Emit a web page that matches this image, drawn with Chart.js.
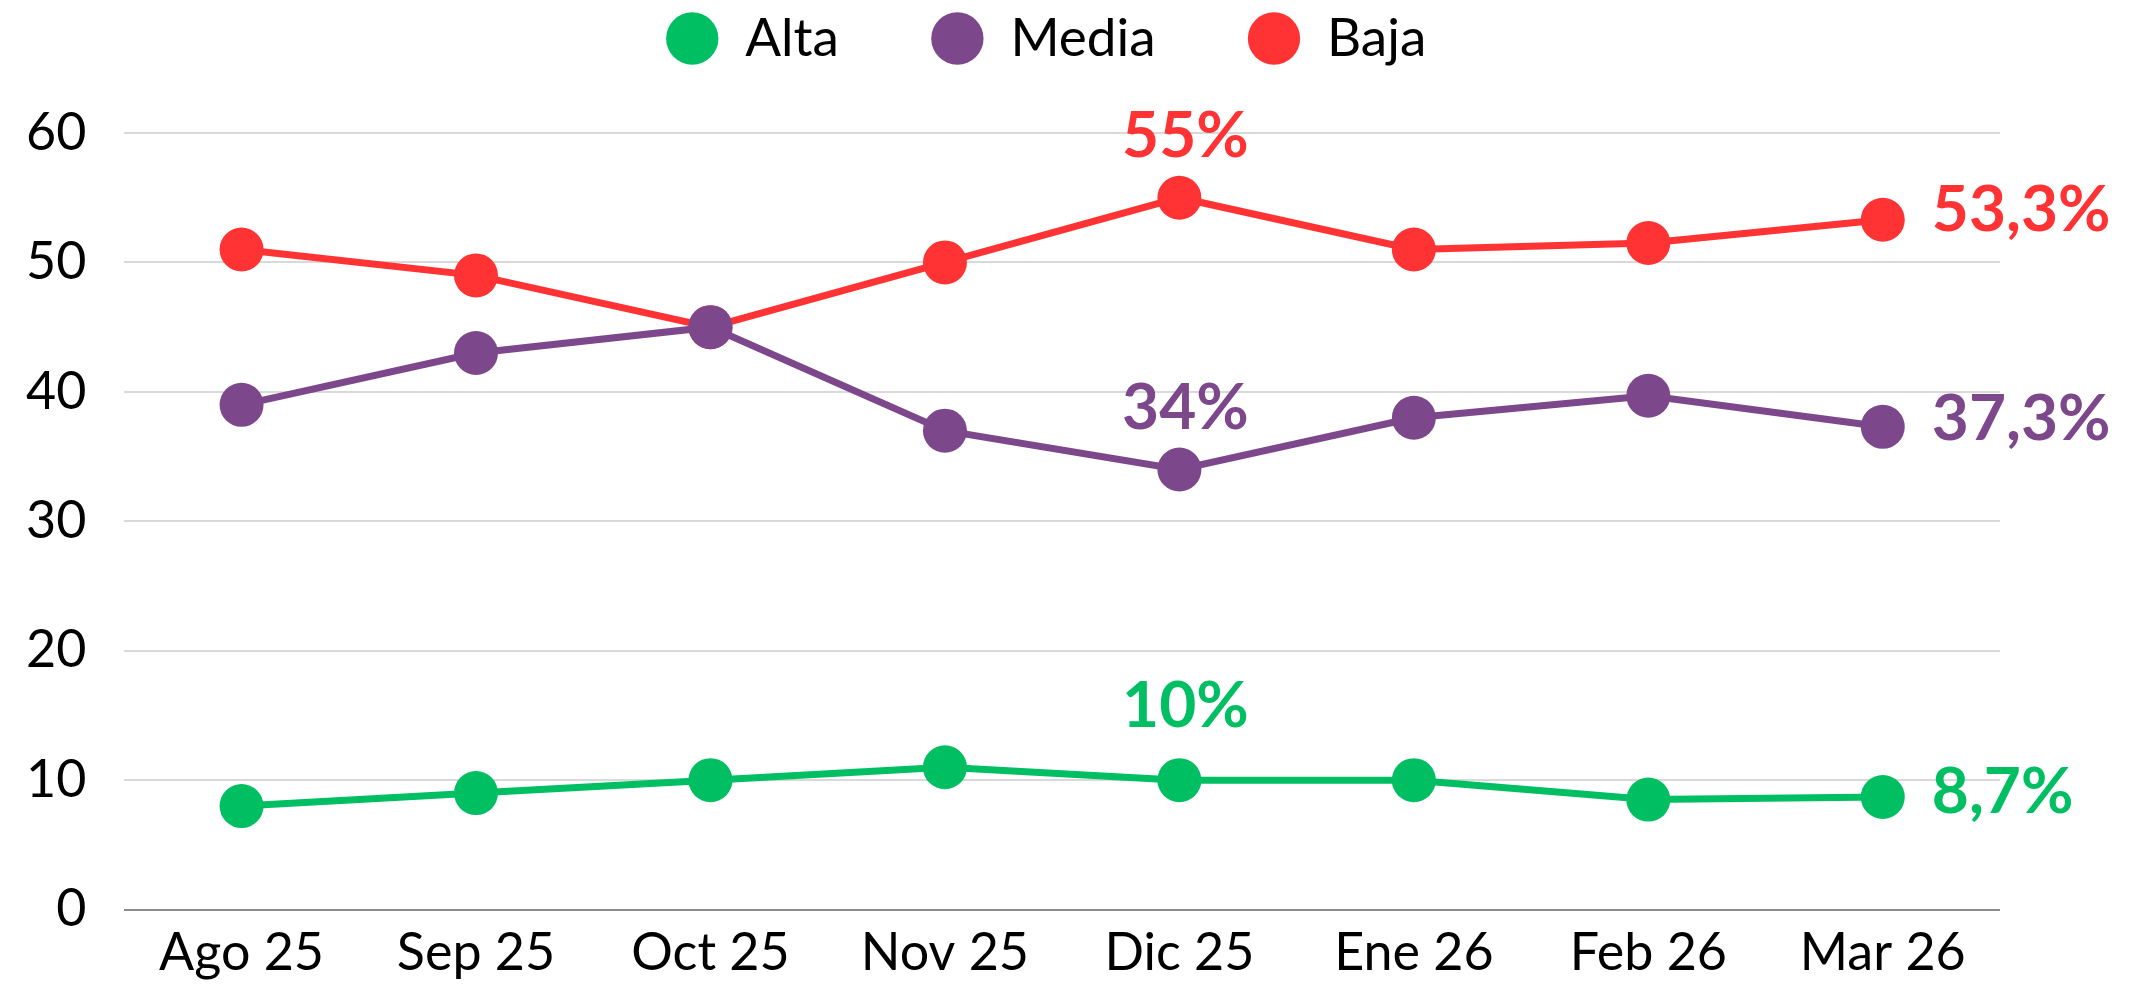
<!DOCTYPE html>
<html>
<head>
<meta charset="utf-8">
<script src="https://cdn.jsdelivr.net/npm/chart.js@4.4.1/dist/chart.umd.min.js"></script>
<style>
  html, body { margin: 0; padding: 0; background: #fff; }
  #wrap { width: 2136px; height: 984px; position: relative; }
</style>
</head>
<body>
<div id="wrap"><canvas id="grafico"></canvas></div>
<script>
const meses = ['Ago 25', 'Sep 25', 'Oct 25', 'Nov 25', 'Dic 25', 'Ene 26', 'Feb 26', 'Mar 26'];
const alta = [8, 9, 10, 11, 10, 10, 8.5, 8.7];
const media = [39, 43, 45, 37, 34, 38, 39.7, 37.3];
const baja = [51, 49, 45, 50, 55, 51, 51.5, 53.3];
const ticksY = [0, 10, 20, 30, 40, 50, 60];

const verde = '#00BF63';
const morado = '#7D478C';
const rojo = '#FF3333';

// etiquetas: punto de Dic 25 arriba, ultimo punto a la derecha
const etiquetas = [
  { serie: 0, idx: 4, pos: 'top', dy: -74 },
  { serie: 1, idx: 4, pos: 'top', dy: -61 },
  { serie: 2, idx: 4, pos: 'top', dy: -61 },
  { serie: 0, idx: 7, pos: 'right', dy: -5 },
  { serie: 1, idx: 7, pos: 'right', dy: -7 },
  { serie: 2, idx: 7, pos: 'right', dy: -9 }
];

function formato(v) {
  return String(v).replace('.', ',') + '%';
}

const pluginEtiquetas = {
  id: 'etiquetas',
  afterDatasetsDraw(chart) {
    const ctx = chart.ctx;
    ctx.save();
    ctx.font = 'bold 64px Lato';
    ctx.textBaseline = 'middle';
    for (let e of etiquetas) {
      const ds = chart.data.datasets[e.serie];
      const p = chart.getDatasetMeta(e.serie).data[e.idx];
      ctx.fillStyle = ds.borderColor;
      if (e.pos == 'top') {
        ctx.textAlign = 'center';
        ctx.fillText(formato(ds.data[e.idx]), p.x + 6, p.y + e.dy);
      } else {
        ctx.textAlign = 'left';
        ctx.fillText(formato(ds.data[e.idx]), p.x + 49, p.y + e.dy);
      }
    }
    ctx.restore();
  }
};

// leyenda mas alta (espacio hasta el area) y corrida a la derecha
const pluginLeyenda = {
  id: 'leyendaAlto',
  beforeInit(chart) {
    const fit = chart.legend.fit;
    chart.legend.fit = function () {
      fit.bind(chart.legend)();
      this.height += 58;
    };
  },
  afterLayout(chart) {
    chart.legend.left += 52;
    chart.legend.right += 52;
  }
};

function serie(label, data, color) {
  return {
    label: label,
    data: data,
    borderColor: color,
    backgroundColor: color,
    pointBackgroundColor: color,
    pointBorderColor: color,
    borderWidth: 7,
    pointRadius: 22,
    pointHoverRadius: 22,
    pointBorderWidth: 0,
    tension: 0
  };
}

const config = {
  type: 'line',
  data: {
    labels: meses,
    datasets: [
      serie('Alta', alta, verde),
      serie('Media', media, morado),
      serie('Baja', baja, rojo)
    ]
  },
  options: {
    responsive: true,
    maintainAspectRatio: false,
    animation: false,
    layout: { padding: { top: -80, left: -12, right: 136, bottom: -12 } },
    plugins: {
      legend: {
        position: 'top',
        labels: {
          usePointStyle: true,
          pointStyle: 'circle',
          boxWidth: 60,
          boxHeight: 37,
          padding: 92,
          color: '#000',
          font: { family: 'Lato', size: 53 }
        }
      },
      tooltip: { enabled: false }
    },
    scales: {
      x: {
        offset: true,
        grid: { display: false, drawTicks: false },
        border: { display: false },
        ticks: { color: '#000', padding: 12, font: { family: 'Lato', size: 52 } }
      },
      y: {
        min: 0,
        max: 60,
        afterBuildTicks(scale) {
          scale.ticks = ticksY.map(v => ({ value: v }));
        },
        grid: {
          drawTicks: false,
          lineWidth: 2,
          color: c => (c.tick && c.tick.value === 0) ? '#8c8c8c' : '#d9d9d9'
        },
        border: { display: false },
        ticks: { color: '#000', padding: 38, font: { family: 'Lato', size: 52 } }
      }
    }
  },
  plugins: [pluginEtiquetas, pluginLeyenda]
};

const myChart = new Chart(document.getElementById('grafico'), config);
</script>
</body>
</html>
